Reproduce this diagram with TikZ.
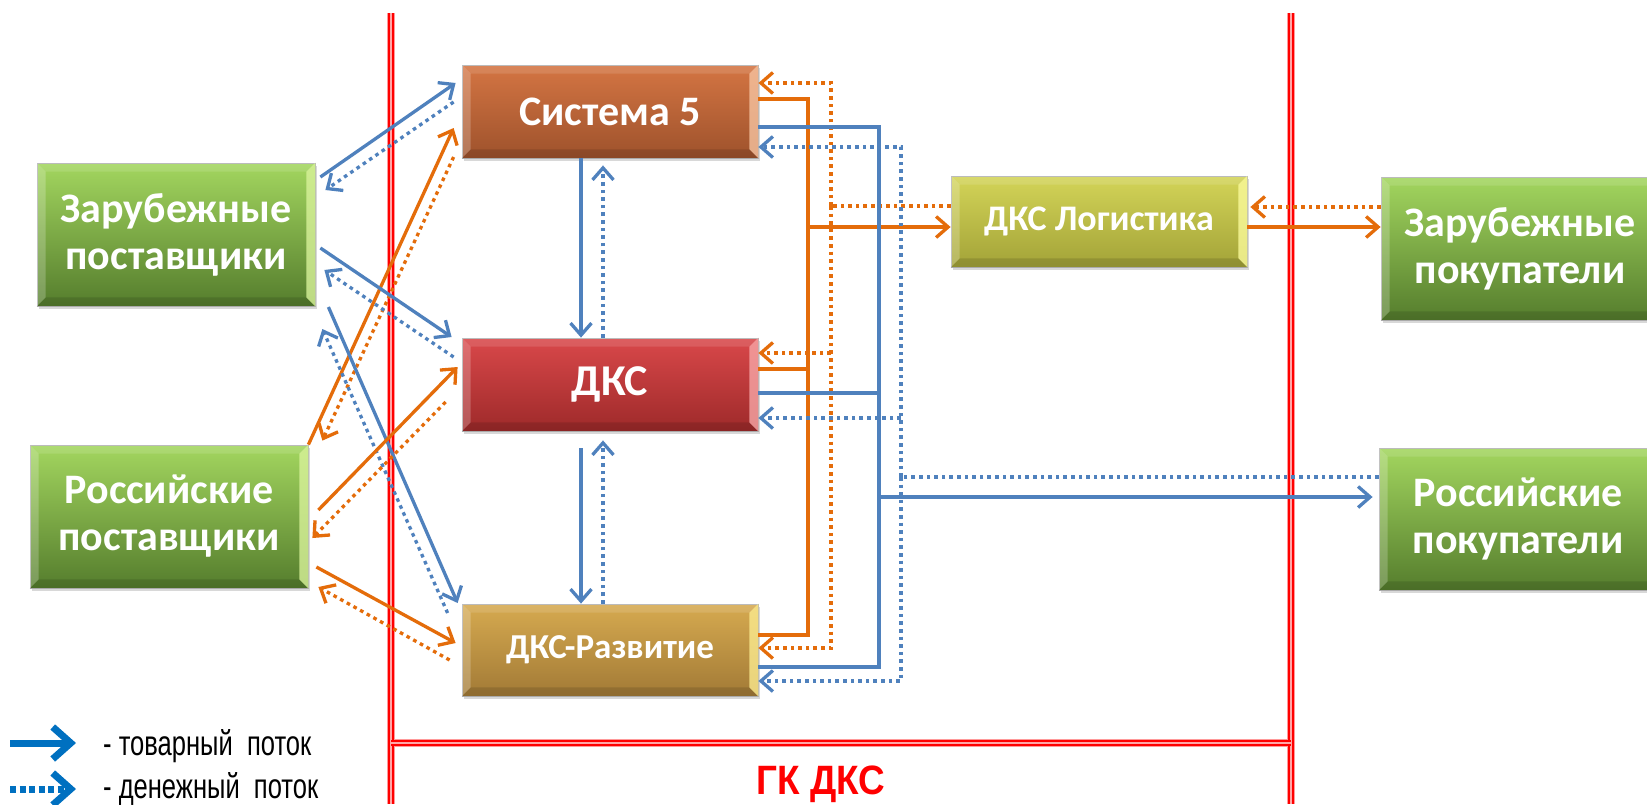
\documentclass[tikz,border=0pt]{standalone}
\usepackage{fontspec}
\setmainfont{Carlito}
\newfontfamily\arialf{Liberation Sans}
\usetikzlibrary{arrows.meta,shadows,calc}
\definecolor{ob}{HTML}{4F81BD}
\definecolor{oo}{HTML}{E46C0A}
\definecolor{lb}{HTML}{0070C0}
\definecolor{sT}{HTML}{D47543}\definecolor{sB}{HTML}{9E522C}\definecolor{sH}{HTML}{F6C3A0}
\definecolor{dT}{HTML}{D9484A}\definecolor{dB}{HTML}{9E2A2A}\definecolor{dH}{HTML}{F7A6A6}
\definecolor{rT}{HTML}{D6AA50}\definecolor{rB}{HTML}{A27A36}\definecolor{rH}{HTML}{FBEA8E}
\definecolor{yT}{HTML}{D3D458}\definecolor{yB}{HTML}{A3A338}\definecolor{yH}{HTML}{FAFA9A}
\definecolor{gT}{HTML}{A3D65F}\definecolor{gB}{HTML}{557D2D}\definecolor{gH}{HTML}{D8F29A}
\newcommand\boxbevel[2]{%
 \fill[white,opacity=.22] (#1.north west) -- ([shift={(9pt,-9pt)}]#1.north west) -- ([shift={(9pt,9pt)}]#1.south west) -- (#1.south west) -- cycle;
 \fill[#2,opacity=.8] (#1.north east) -- ([shift={(-9pt,-9pt)}]#1.north east) -- ([shift={(-9pt,9pt)}]#1.south east) -- (#1.south east) -- cycle;
 \fill[white,opacity=.12] (#1.north west) -- (#1.north east) -- ([shift={(-9pt,-9pt)}]#1.north east) -- ([shift={(9pt,-9pt)}]#1.north west) -- cycle;
 \fill[black,opacity=.12] (#1.south west) -- (#1.south east) -- ([shift={(-9pt,9pt)}]#1.south east) -- ([shift={(9pt,9pt)}]#1.south west) -- cycle;
}
\begin{document}
\begin{tikzpicture}[x=1pt,y=-1pt,
 box/.style={rectangle, draw=black!30, line width=0.8pt, text=white, align=center, inner sep=0pt,
   drop shadow={opacity=0.3,shadow xshift=2pt,shadow yshift=-3pt}},
 gline/.style={ob, line width=3.3pt},
 gdot/.style={ob, line width=3.3pt, dash pattern=on 3.6pt off 4pt},
 oline/.style={oo, line width=3.3pt},
 odot/.style={oo, line width=3.3pt, dash pattern=on 3.6pt off 4pt},
 tip/.style={-{Straight Barb[length=12pt,width=21pt]}},
 redhalo/.style={red!40, line width=8pt},
 redline/.style={red, line width=2pt, double=red!35, double distance=1.5pt},
]
\clip (0,0) rectangle (1647,804);
\fill[white] (0,0) rectangle (1647,804);

% red group borders
\coordinate (rl1) at (391,13); \coordinate (rl2) at (391,804);
\coordinate (rr1) at (1291,13); \coordinate (rr2) at (1291,804);
\coordinate (rh1) at (391,743); \coordinate (rh2) at (1291,743);
\foreach \a/\b in {rl1/rl2, rr1/rr2, rh1/rh2} {\draw[redhalo] (\a) -- (\b);}
\foreach \a/\b in {rl1/rl2, rr1/rr2, rh1/rh2} {\draw[redline] (\a) -- (\b);}
\node[anchor=base, inner sep=0pt, font=\arialf\bfseries\fontsize{41}{44}\selectfont, text=red] (gk) at (821,794) {\scalebox{0.9}[1]{ГК ДКС}};

% boxes
\node[box, minimum width=296pt, minimum height=93pt, top color=sT, bottom color=sB, font=\bfseries\fontsize{42}{47}\selectfont] (s5) at (610,111.5) {Система 5};
\node[box, minimum width=296pt, minimum height=93pt, top color=dT, bottom color=dB, font=\bfseries\fontsize{44}{47}\selectfont] (dks) at (610,384.5) {ДКС};
\node[box, minimum width=296pt, minimum height=92pt, top color=rT, bottom color=rB, font=\bfseries\fontsize{35}{40}\selectfont] (dksr) at (610,650) {ДКС-Развитие};
\node[box, minimum width=296pt, minimum height=91pt, top color=yT, bottom color=yB, font=\bfseries\fontsize{36}{40}\selectfont] (log) at (1099,221.5) {ДКС Логистика};
\node[box, minimum width=278pt, minimum height=143pt, top color=gT, bottom color=gB, font=\bfseries\fontsize{42}{47}\selectfont] (zp) at (176,234.5) {Зарубежные\\поставщики};
\node[box, minimum width=278pt, minimum height=143pt, top color=gT, bottom color=gB, font=\bfseries\fontsize{42}{47}\selectfont] (rp) at (169,516.5) {Российские\\поставщики};
\node[box, minimum width=278pt, minimum height=143pt, top color=gT, bottom color=gB, font=\bfseries\fontsize{42}{47}\selectfont] (zb) at (1520,248.5) {Зарубежные\\покупатели};
\node[box, minimum width=278pt, minimum height=142pt, top color=gT, bottom color=gB, font=\bfseries\fontsize{42}{47}\selectfont] (rb) at (1518,519) {Российские\\покупатели};
\boxbevel{s5}{sH}\boxbevel{dks}{dH}\boxbevel{dksr}{rH}\boxbevel{log}{yH}
\boxbevel{zp}{gH}\boxbevel{rp}{gH}\boxbevel{zb}{gH}\boxbevel{rb}{gH}

% bus coordinates
\coordinate (obus) at (808,0);
\coordinate (omon) at (831,0);
\coordinate (bbus) at (879,0);
\coordinate (bmon) at (901,0);

% orange goods bus
\draw[oline] (s5.east |- 0,99) -- (obus |- 0,99) -- (obus |- 0,635) -- (dksr.east |- 0,635);
\draw[oline] (dks.east |- 0,369) -- (obus |- 0,369);
\draw[oline,tip] (obus |- 0,227) -- (log.west |- 0,227);
% orange money bus
\draw[odot] (log.west |- 0,206) -- (omon |- 0,206);
\draw[odot,tip] (omon |- 0,206) |- (s5.east |- 0,83);
\draw[odot,tip] (omon |- 0,206) |- (dksr.east |- 0,648);
\draw[odot,tip] (omon |- 0,353) -- (dks.east |- 0,353);
% blue goods bus
\draw[gline] (s5.east |- 0,127) -| (bbus |- 0,667) -- (dksr.east |- 0,667);
\draw[gline] (dks.east |- 0,393) -- (bbus |- 0,393);
\draw[gline,tip] (bbus |- 0,497) -- ($(rb.west |- 0,497)+(-6,0)$);
% blue money bus
\draw[gdot] (rb.west |- 0,477) -- (bmon |- 0,477);
\draw[gdot,tip] (bmon |- 0,477) |- (s5.east |- 0,147);
\draw[gdot,tip] (bmon |- 0,477) |- (dksr.east |- 0,681);
\draw[gdot,tip] (bmon |- 0,418) -- (dks.east |- 0,418);

% logistics <-> foreign buyers
\draw[oline,tip] (log.east |- 0,227) -- (zb.west |- 0,227);
\draw[odot,tip] (zb.west |- 0,207) -- ($(log.east |- 0,207)+(3,0)$);

% central verticals
\draw[gline,tip] (s5.south -| 581,0) -- (dks.north -| 581,0);
\draw[gdot,tip,shorten >=7pt] (dks.north -| 603,0) -- (s5.south -| 603,0);
\draw[gline,tip,shorten <=17pt] (dks.south -| 581,0) -- (dksr.north -| 581,0);
\draw[gdot,tip,shorten >=9pt] (dksr.north -| 603,0) -- (dks.south -| 603,0);

% left diagonals
\draw[gline,tip] ($(zp.east |- 0,177)+(5,0)$) -- ($(s5.west |- 0,83)+(-6,0)$);
\draw[gdot,tip] ($(s5.west |- 0,102)+(-8,0)$) -- ($(zp.east |- 0,190)+(10,0)$);
\draw[oline,tip] (rp.north east) -- ($(s5.west |- 0,128)+(-8,0)$);
\draw[odot,tip] ($(s5.west |- 0,157)+(-8,0)$) -- ($(rp.north east)+(14,-4)$);
\draw[gline,tip] ($(zp.east |- 0,248)+(5,0)$) -- ($(dks.west |- 0,337)+(-10,0)$);
\draw[gdot,tip] ($(dks.west |- 0,357)+(-8,0)$) -- ($(zp.east |- 0,270)+(9,0)$);
\draw[gline,tip] ($(zp.east |- 0,307)+(13,0)$) -- ($(dksr.west |- 0,603)+(-4,0)$);
\draw[gdot,tip] ($(dksr.west |- 0,613)+(-14,0)$) -- ($(zp.east |- 0,329)+(7,0)$);
\draw[oline,tip] ($(rp.east |- 0,510)+(10,0)$) -- ($(dks.west |- 0,367)+(-4,0)$);
\draw[odot,tip] ($(dks.west |- 0,402)+(-16,0)$) -- ($(rp.east |- 0,538)+(4,0)$);
\draw[oline,tip] ($(rp.east |- 0,567)+(8,0)$) -- ($(dksr.west |- 0,643)+(-6,0)$);
\draw[odot,tip] ($(dksr.west |- 0,660)+(-12,0)$) -- ($(rp.east |- 0,587)+(10,0)$);

% legend
\coordinate (la1) at (10,743); \coordinate (la2) at (76,743);
\coordinate (lb1) at (10,789); \coordinate (lb2) at (76,789);
\draw[lb, line width=7pt, -{Straight Barb[length=18pt,width=32pt]}] (la1) -- (la2);
\draw[lb, line width=7pt, dash pattern=on 6pt off 3.5pt, -{Straight Barb[length=18pt,width=32pt]}] (lb1) -- (lb2);
\node[anchor=base west, inner sep=0pt, font=\arialf\fontsize{35}{40}\selectfont] (lt1) at (103,755) {\scalebox{0.73}[1]{- товарный~~поток}};
\node[anchor=base west, inner sep=0pt, font=\arialf\fontsize{35}{40}\selectfont] (lt2) at (103,798) {\scalebox{0.73}[1]{- денежный~~поток}};
\end{tikzpicture}
\end{document}
